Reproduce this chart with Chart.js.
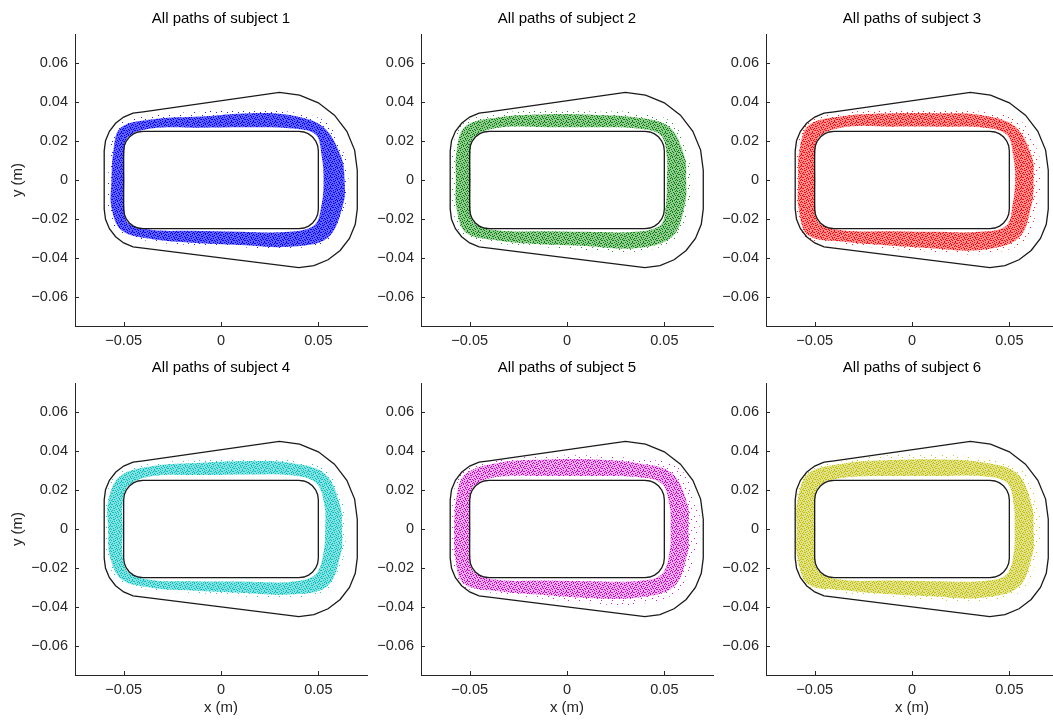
<!DOCTYPE html>
<html>
<head>
<meta charset="utf-8">
<script src="https://cdn.jsdelivr.net/npm/chart.js@4.4.1/dist/chart.umd.min.js"></script>
<style>
  html, body { margin: 0; padding: 0; background: #fff; overflow: hidden; width: 1053px; height: 720px; }
  canvas { position: absolute; }
</style>
</head>
<body>
<script>
// ---- Axis ticks ----
const xTicks = [-0.05, 0, 0.05];
const xTickLabels = ['\u22120.05', '0', '0.05'];
const yTicks = [-0.06, -0.04, -0.02, 0, 0.02, 0.04, 0.06];
const yTickLabels = ['\u22120.06', '\u22120.04', '\u22120.02', '0', '0.02', '0.04', '0.06'];

// ---- Track walls (m) ----
const innerWall = [
  [-0.05, 0.015], [-0.04966, 0.01759], [-0.04866, 0.02], [-0.04707, 0.02207], [-0.045, 0.02366], [-0.04259, 0.02466], [-0.04, 0.025],
  [0.04, 0.025], [0.04259, 0.02466], [0.045, 0.02366], [0.04707, 0.02207], [0.04866, 0.02], [0.04966, 0.01759], [0.05, 0.015],
  [0.05, -0.015], [0.04966, -0.01759], [0.04866, -0.02], [0.04707, -0.02207], [0.045, -0.02366], [0.04259, -0.02466], [0.04, -0.025],
  [-0.04, -0.025], [-0.04259, -0.02466], [-0.045, -0.02366], [-0.04707, -0.02207], [-0.04866, -0.02], [-0.04966, -0.01759], [-0.05, -0.015]
];
const outerWall = [
  [-0.06, 0.015], [-0.05932, 0.02018], [-0.05732, 0.025], [-0.05414, 0.02914], [-0.05, 0.03232], [-0.04518, 0.03432], [-0.04, 0.035],
  [0.03, 0.045], [0.04035, 0.04364], [0.05, 0.03964], [0.05828, 0.03328], [0.06464, 0.025], [0.06864, 0.01535], [0.07, 0.005],
  [0.07, -0.015], [0.06898, -0.02276], [0.06598, -0.03], [0.06121, -0.03621], [0.055, -0.04098], [0.04776, -0.04398], [0.04, -0.045],
  [-0.04, -0.035], [-0.04518, -0.03432], [-0.05, -0.03232], [-0.05414, -0.02914], [-0.05732, -0.025], [-0.05932, -0.02018], [-0.06, -0.015]
];

// ---- Path bands per subject: inner edge, dense outer edge, sparse outer edge ----
const s1Inner = [[-0.0497,0],[-0.0497,0.014],[-0.0474,0.0224],[-0.035,0.0266],[-0.01,0.0269],[0.015,0.0271],[0.035,0.0266],[0.0485,0.0235],[0.0518,0.012],[0.0527,0],[0.0518,-0.012],[0.0481,-0.0231],[0.035,-0.0266],[0.01,-0.0266],[-0.015,-0.0261],[-0.035,-0.0257],[-0.0474,-0.0224],[-0.0497,-0.014]];
const s1Outer = [[-0.0563,0],[-0.0554,0.014],[-0.0517,0.0267],[-0.035,0.0312],[-0.01,0.0326],[0.015,0.0343],[0.035,0.0334],[0.0524,0.0274],[0.0617,0.012],[0.0635,0],[0.0629,-0.012],[0.0548,-0.0298],[0.035,-0.0343],[0.01,-0.0334],[-0.015,-0.0322],[-0.035,-0.0305],[-0.051,-0.026],[-0.0563,-0.014]];
const s1Halo  = [[-0.058,0],[-0.057,0.014],[-0.0531,0.0281],[-0.035,0.0334],[-0.01,0.0351],[0.015,0.0363],[0.035,0.0351],[0.0545,0.0295],[0.0638,0.012],[0.0655,0],[0.0641,-0.012],[0.0559,-0.0309],[0.035,-0.0351],[0.01,-0.0345],[-0.015,-0.0334],[-0.035,-0.0317],[-0.052,-0.027],[-0.058,-0.014]];

const s2Inner = [[-0.0495,0],[-0.0495,0.014],[-0.0474,0.0224],[-0.035,0.0269],[-0.01,0.0271],[0.015,0.0271],[0.035,0.0266],[0.0481,0.0231],[0.0513,0.012],[0.0513,0],[0.0509,-0.012],[0.0481,-0.0231],[0.035,-0.0266],[0.01,-0.0266],[-0.015,-0.0263],[-0.035,-0.026],[-0.0474,-0.0224],[-0.0495,-0.014]];
const s2Outer = [[-0.0571,0],[-0.0568,0.014],[-0.0524,0.0274],[-0.035,0.0322],[-0.01,0.0338],[0.015,0.0334],[0.035,0.0322],[0.0524,0.0274],[0.0604,0.012],[0.0612,0],[0.0607,-0.012],[0.0541,-0.0291],[0.035,-0.0351],[0.01,-0.0339],[-0.015,-0.0329],[-0.035,-0.0312],[-0.052,-0.027],[-0.0568,-0.014]];
const s2Halo  = [[-0.0593,0],[-0.059,0.014],[-0.0538,0.0288],[-0.035,0.0343],[-0.01,0.0357],[0.015,0.0351],[0.035,0.0346],[0.0545,0.0295],[0.0624,0.012],[0.0633,0],[0.0629,-0.012],[0.0556,-0.0306],[0.035,-0.0369],[0.01,-0.036],[-0.015,-0.0343],[-0.035,-0.0326],[-0.0534,-0.0284],[-0.0588,-0.014]];

const s3Inner = [[-0.0497,0],[-0.0497,0.014],[-0.0474,0.0224],[-0.035,0.0271],[-0.01,0.0274],[0.015,0.0274],[0.035,0.0271],[0.0485,0.0235],[0.0521,0.012],[0.053,0],[0.0518,-0.012],[0.0485,-0.0235],[0.035,-0.0266],[0.01,-0.0266],[-0.015,-0.0263],[-0.035,-0.026],[-0.0474,-0.0224],[-0.0497,-0.014]];
const s3Outer = [[-0.0585,0],[-0.058,0.014],[-0.0531,0.0281],[-0.035,0.0329],[-0.01,0.0343],[0.015,0.0343],[0.035,0.0334],[0.0527,0.0277],[0.0616,0.012],[0.0624,0],[0.0616,-0.012],[0.0548,-0.0298],[0.035,-0.036],[0.01,-0.0351],[-0.015,-0.0334],[-0.035,-0.0317],[-0.0534,-0.0284],[-0.0583,-0.014]];
const s3Halo  = [[-0.0597,0],[-0.0593,0.014],[-0.0541,0.0291],[-0.035,0.0346],[-0.01,0.0357],[0.015,0.0357],[0.035,0.0351],[0.0556,0.0306],[0.0655,0.012],[0.0662,0],[0.065,-0.012],[0.057,-0.032],[0.035,-0.038],[0.01,-0.0369],[-0.015,-0.0351],[-0.035,-0.0329],[-0.0545,-0.0295],[-0.0595,-0.014]];

const s4Inner = [[-0.0505,0],[-0.0505,0.014],[-0.0474,0.0224],[-0.035,0.0272],[-0.01,0.0277],[0.015,0.028],[0.035,0.0277],[0.0488,0.0238],[0.0532,0.012],[0.0535,0],[0.0527,-0.012],[0.0485,-0.0235],[0.035,-0.0272],[0.01,-0.027],[-0.015,-0.0268],[-0.035,-0.0263],[-0.0474,-0.0224],[-0.0505,-0.014]];
const s4Outer = [[-0.058,0],[-0.058,0.014],[-0.052,0.027],[-0.035,0.0323],[-0.01,0.034],[0.015,0.0349],[0.035,0.034],[0.0534,0.0284],[0.0612,0.012],[0.0621,0],[0.0617,-0.012],[0.0545,-0.0295],[0.035,-0.0337],[0.01,-0.0328],[-0.015,-0.0316],[-0.035,-0.0303],[-0.051,-0.026],[-0.0571,-0.014]];
const s4Halo  = [[-0.0595,0],[-0.0595,0.014],[-0.0534,0.0284],[-0.035,0.0337],[-0.01,0.0354],[0.015,0.0361],[0.035,0.0354],[0.0548,0.0298],[0.063,0.012],[0.0638,0],[0.0635,-0.012],[0.0559,-0.0309],[0.035,-0.0354],[0.01,-0.0345],[-0.015,-0.0328],[-0.035,-0.0316],[-0.052,-0.027],[-0.059,-0.014]];

const s5Inner = [[-0.0497,0],[-0.0497,0.014],[-0.0474,0.0224],[-0.035,0.0268],[-0.01,0.0272],[0.015,0.0272],[0.035,0.0267],[0.0485,0.0235],[0.0527,0.012],[0.0532,0],[0.0527,-0.012],[0.0485,-0.0235],[0.035,-0.0268],[0.01,-0.0268],[-0.015,-0.0265],[-0.035,-0.0262],[-0.0474,-0.0224],[-0.0497,-0.014]];
const s5Outer = [[-0.058,0],[-0.0571,0.014],[-0.0527,0.0277],[-0.035,0.034],[-0.01,0.0357],[0.015,0.0357],[0.035,0.034],[0.0538,0.0288],[0.0621,0.012],[0.0624,0],[0.0621,-0.012],[0.0548,-0.0298],[0.035,-0.0354],[0.01,-0.0354],[-0.015,-0.0337],[-0.035,-0.032],[-0.0531,-0.0281],[-0.0575,-0.014]];
const s5Halo  = [[-0.0593,0],[-0.0588,0.014],[-0.0541,0.0291],[-0.035,0.0354],[-0.01,0.0374],[0.015,0.0378],[0.035,0.0361],[0.057,0.032],[0.0672,0.012],[0.0681,0],[0.0664,-0.012],[0.057,-0.032],[0.035,-0.0388],[0.01,-0.038],[-0.015,-0.0354],[-0.035,-0.0332],[-0.0541,-0.0291],[-0.059,-0.014]];

const s6Inner = [[-0.0497,0],[-0.0497,0.014],[-0.0474,0.0224],[-0.035,0.0263],[-0.01,0.0272],[0.015,0.0272],[0.035,0.0272],[0.0488,0.0238],[0.0523,0.012],[0.0527,0],[0.0523,-0.012],[0.0485,-0.0235],[0.035,-0.0268],[0.01,-0.0268],[-0.015,-0.0265],[-0.035,-0.0262],[-0.0474,-0.0224],[-0.0497,-0.014]];
const s6Outer = [[-0.0593,0],[-0.059,0.014],[-0.0534,0.0284],[-0.035,0.0337],[-0.01,0.0354],[0.015,0.0357],[0.035,0.0344],[0.0538,0.0288],[0.0616,0.012],[0.0624,0],[0.0621,-0.012],[0.0548,-0.0298],[0.035,-0.0354],[0.01,-0.0345],[-0.015,-0.0332],[-0.035,-0.0315],[-0.0534,-0.0284],[-0.059,-0.014]];
const s6Halo  = [[-0.0602,0],[-0.06,0.014],[-0.0545,0.0295],[-0.035,0.0349],[-0.01,0.0383],[0.015,0.0383],[0.035,0.0366],[0.0559,0.0309],[0.065,0.012],[0.0659,0],[0.065,-0.012],[0.0566,-0.0316],[0.035,-0.0371],[0.01,-0.0363],[-0.015,-0.0345],[-0.035,-0.0328],[-0.0541,-0.0291],[-0.06,-0.014]];

const subjectColors = ['#0000ff', '#008000', '#ff0000', '#00bfbf', '#bf00bf', '#bfbf00'];
const subjectDensity = [0.62, 0.42, 0.45, 0.48, 0.32, 0.45];

const subjects = [
  { inner: s1Inner, outer: s1Outer, halo: s1Halo },
  { inner: s2Inner, outer: s2Outer, halo: s2Halo },
  { inner: s3Inner, outer: s3Outer, halo: s3Halo },
  { inner: s4Inner, outer: s4Outer, halo: s4Halo },
  { inner: s5Inner, outer: s5Outer, halo: s5Halo },
  { inner: s6Inner, outer: s6Outer, halo: s6Halo }
];

// ---- Styling helpers ----
const FONT = "'Liberation Sans', Arial, Helvetica, sans-serif";
const INK = '#262626';

function rgba(hex, a) {
  const n = parseInt(hex.slice(1), 16);
  return `rgba(${(n >> 16) & 255},${(n >> 8) & 255},${n & 255},${a})`;
}

// small stipple tile so the filled bands read as clouds of dots
function stipple(hex, baseAlpha, dots, size, dotAlpha) {
  const c = document.createElement('canvas');
  c.width = c.height = size;
  const g = c.getContext('2d');
  if (baseAlpha > 0) { g.fillStyle = rgba(hex, baseAlpha); g.fillRect(0, 0, size, size); }
  g.fillStyle = rgba(hex, dotAlpha);
  dots.forEach(([x, y]) => g.fillRect(x, y, 1, 1));
  return g.createPattern(c, 'repeat');
}
const denseDots = [
  [0,0],[4,0],[8,0],[2,1],[6,1],[10,1],[5,2],[9,2],[0,3],[3,3],[7,3],
  [1,4],[5,4],[10,4],[3,5],[8,5],[0,6],[6,6],[9,6],[2,7],[4,7],
  [1,8],[7,8],[10,8],[3,9],[5,9],[8,9],[0,10],[6,10]
];
const sparseDots = [[1,1],[7,2],[4,5],[9,7],[2,9]];

const closed = loop => loop.concat([loop[0]]).map(([x, y]) => ({ x, y }));

// MATLAB-style tick marks pointing into the axes
const inwardTicks = {
  id: 'inwardTicks',
  afterDraw(chart) {
    const { ctx, chartArea: a, scales: { x, y } } = chart;
    ctx.save();
    ctx.strokeStyle = INK;
    ctx.lineWidth = 1;
    ctx.beginPath();
    x.ticks.forEach(t => {
      const p = Math.round(x.getPixelForValue(t.value)) + 0.5;
      ctx.moveTo(p, a.bottom); ctx.lineTo(p, a.bottom - 4);
    });
    y.ticks.forEach(t => {
      const p = Math.round(y.getPixelForValue(t.value)) + 0.5;
      ctx.moveTo(a.left, p); ctx.lineTo(a.left + 4, p);
    });
    ctx.stroke();
    ctx.restore();
  }
};

// ---- Layout of the 2 x 3 grid ----
const COL_LEFT = [75, 421, 766];
const ROW_TOP = [34, 383];
const AREA = 292, AXIS_W = 75, AXIS_H = 42, HEAD = 34, TAIL = 8;

subjects.forEach((s, i) => {
  const col = i % 3, row = Math.floor(i / 3);
  const color = subjectColors[i];
  const cv = document.createElement('canvas');
  cv.width = AXIS_W + AREA + TAIL;
  cv.height = HEAD + AREA + AXIS_H;
  cv.style.left = (COL_LEFT[col] - AXIS_W) + 'px';
  cv.style.top = (ROW_TOP[row] - HEAD) + 'px';
  document.body.appendChild(cv);

  const wall = { borderColor: '#1a1a1a', borderWidth: 1.3, tension: 0, fill: false, pointRadius: 0, order: 0 };
  const band = { borderWidth: 0, borderColor: 'rgba(0,0,0,0)', tension: 0.35, fill: 'shape', pointRadius: 0 };

  new Chart(cv, {
    type: 'line',
    data: {
      datasets: [
        { ...wall, label: 'Outer wall', data: closed(outerWall) },
        { ...wall, label: 'Inner wall', data: closed(innerWall) },
        { ...band, label: 'Inner edge', data: closed(s.inner), backgroundColor: '#ffffff', order: 1 },
        { ...band, label: 'Paths', data: closed(s.outer), backgroundColor: stipple(color, subjectDensity[i], denseDots, 11, 1), order: 2 },
        { ...band, label: 'Stray points', data: closed(s.halo), backgroundColor: stipple(color, 0, sparseDots, 11, 0.85), order: 3 }
      ]
    },
    options: {
      responsive: false,
      animation: false,
      devicePixelRatio: 1,
      layout: { padding: { left: 0, right: TAIL, top: 0, bottom: 0 } },
      plugins: {
        legend: { display: false },
        tooltip: { enabled: false },
        title: {
          display: true,
          text: 'All paths of subject ' + (i + 1),
          color: '#000',
          fullSize: false,
          font: { family: FONT, size: 15, weight: 'normal', lineHeight: 1.2 },
          padding: { top: 9.5, bottom: 6.5 }
        }
      },
      scales: {
        x: {
          type: 'linear', min: -0.075, max: 0.075,
          afterBuildTicks: sc => { sc.ticks = xTicks.map(v => ({ value: v })); },
          afterFit: sc => { sc.height = AXIS_H; },
          grid: { display: false, drawTicks: false },
          border: { display: true, color: INK, width: 1 },
          ticks: { padding: 6, color: INK, autoSkip: false, maxRotation: 0,
                   font: { family: FONT, size: 14.5 }, callback: (v, k) => xTickLabels[k] },
          title: { display: row === 1, text: 'x (m)', color: INK,
                   font: { family: FONT, size: 15, lineHeight: 1.2 }, padding: { top: 0, bottom: 0 } }
        },
        y: {
          type: 'linear', min: -0.075, max: 0.075,
          afterBuildTicks: sc => { sc.ticks = yTicks.map(v => ({ value: v })); },
          afterFit: sc => { sc.width = AXIS_W; },
          grid: { display: false, drawTicks: false },
          border: { display: true, color: INK, width: 1 },
          ticks: { padding: 7, color: INK, autoSkip: false,
                   font: { family: FONT, size: 14.5 }, callback: (v, k) => yTickLabels[k] },
          title: { display: col === 0, text: 'y (m)', color: INK,
                   font: { family: FONT, size: 15, lineHeight: 1.2 }, padding: { top: 9, bottom: 0 } }
        }
      }
    },
    plugins: [inwardTicks]
  });
});
</script>
</body>
</html>
